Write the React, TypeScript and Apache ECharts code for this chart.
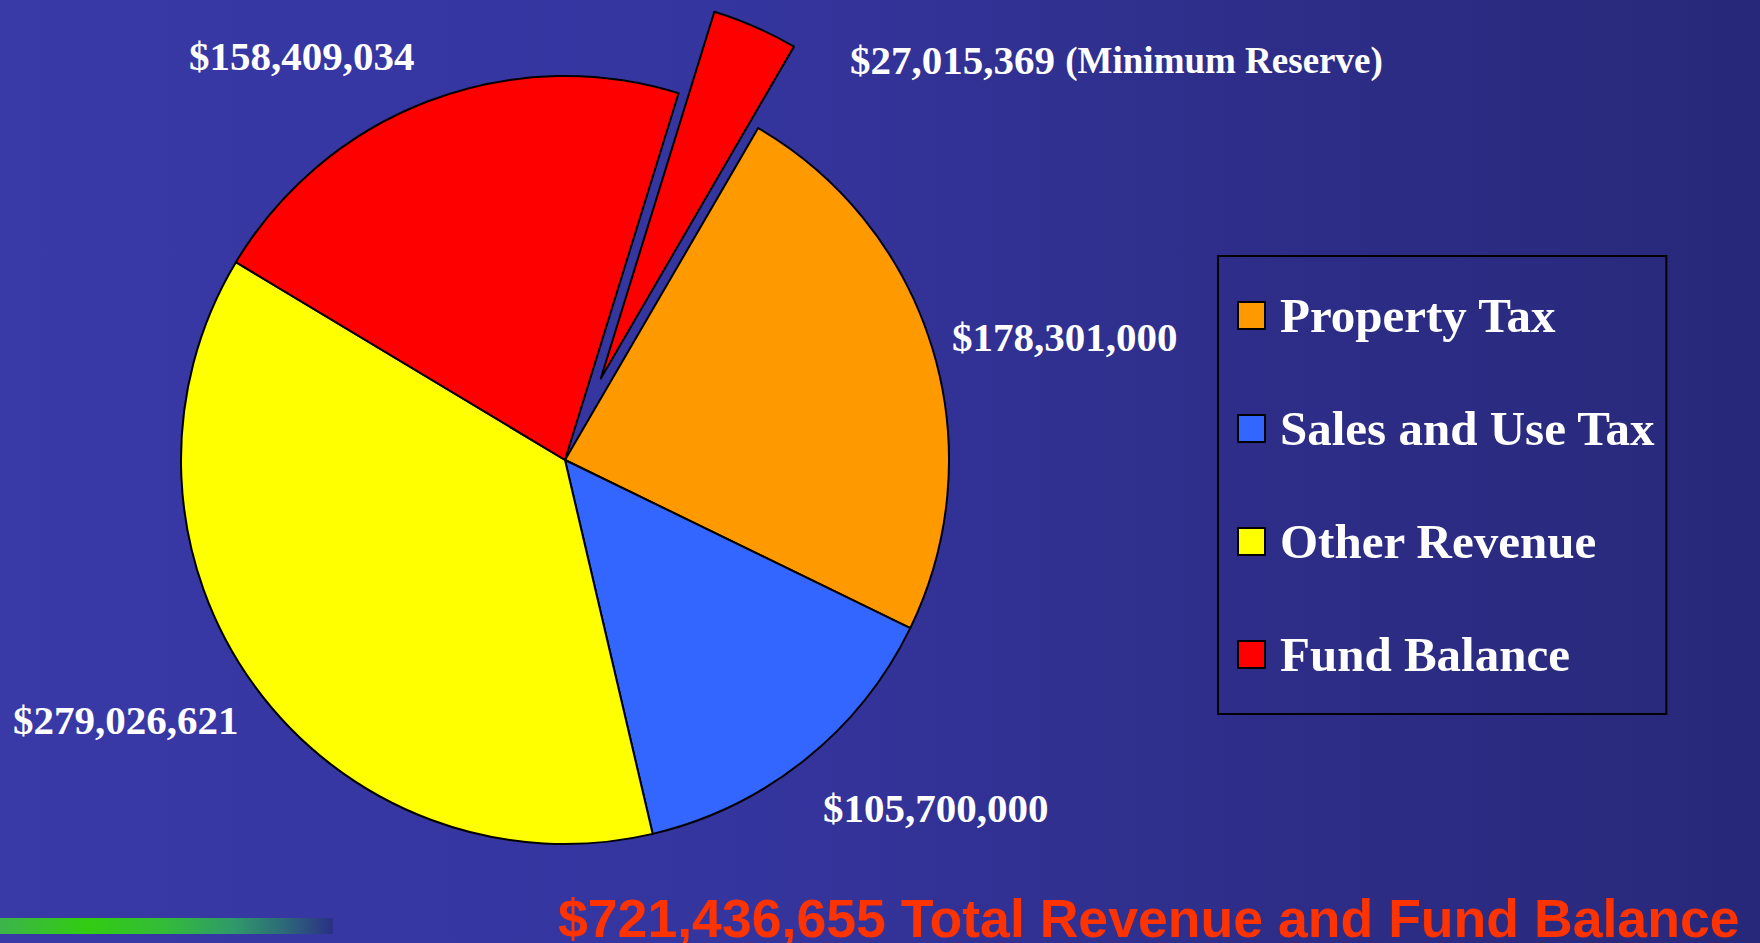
import React, { useEffect, useRef } from "react";
import * as echarts from "echarts";

const categories = ["Property Tax", "Sales and Use Tax", "Other Revenue", "Fund Balance", "Minimum Reserve"];
const values = [178301000, 105700000, 279026621, 158409034, 27015369];
const legendItems = ["Property Tax", "Sales and Use Tax", "Other Revenue", "Fund Balance"];
const totalLabel = "$721,436,655 Total Revenue and Fund Balance";

const COLORS = ["#FF9900", "#3366FF", "#FFFF00", "#FF0000", "#FF0000"];
const EXPLODED = 4; // index of the pulled-out slice
// label anchor positions (left edge x, middle y)
const LABEL_X = [952, 823, 13, 189, 850];
const LABEL_Y = [337, 808, 720, 56, 60];

const CENTER = [565, 460];
const RADIUS = 384;
const START_ANGLE = 59.8;
const EXPLODE_OFFSET = 89;

const fmt = (v: number) => "$" + v.toLocaleString("en-US");

export default function App() {
  const ref = useRef<HTMLDivElement>(null);
  useEffect(() => {
    const chart = echarts.init(ref.current!, undefined, { renderer: "svg" });

    // mid-angle of the exploded slice, derived from the data
    const total = values.reduce((a, b) => a + b, 0);
    const before = values.slice(0, EXPLODED).reduce((a, b) => a + b, 0);
    const midDeg = START_ANGLE - (360 * (before + values[EXPLODED] / 2)) / total;
    const midRad = (midDeg * Math.PI) / 180;
    const explodedCenter = [
      CENTER[0] + EXPLODE_OFFSET * Math.cos(midRad),
      CENTER[1] - EXPLODE_OFFSET * Math.sin(midRad),
    ];

    const labelBase = {
      color: "#FFFFFF",
      fontFamily: "Liberation Serif",
      fontWeight: "bold" as const,
      fontSize: 41,
    };

    const commonSeries = {
      type: "pie" as const,
      radius: RADIUS,
      startAngle: START_ANGLE,
      clockwise: true,
      avoidLabelOverlap: false,
      emphasis: { disabled: true },
      labelLine: { show: false },
      labelLayout: (params: any) => ({
        x: LABEL_X[params.dataIndex],
        y: LABEL_Y[params.dataIndex],
        align: "left",
        verticalAlign: "middle",
      }),
    };

    chart.setOption({
      animation: false,
      backgroundColor: new echarts.graphic.LinearGradient(0, 0, 1, 0, [
        { offset: 0, color: "#3939A7" },
        { offset: 0.4, color: "#3535A0" },
        { offset: 0.7, color: "#2E2E8A" },
        { offset: 1, color: "#28287A" },
      ]),
      legend: {
        orient: "vertical",
        left: 1218,
        top: 256,
        data: legendItems,
        icon: "rect",
        itemWidth: 27,
        itemHeight: 27,
        itemGap: 64,
        padding: [35, 11, 35, 19],
        borderColor: "#000",
        borderWidth: 2,
        selectedMode: false,
        textStyle: {
          color: "#FFFFFF",
          fontFamily: "Liberation Serif",
          fontWeight: "bold",
          fontSize: 49,
          padding: [0, 0, 0, 10],
        },
      },
      graphic: [
        {
          type: "rect",
          shape: { x: 0, y: 918, width: 333, height: 16 },
          style: {
            fill: new echarts.graphic.LinearGradient(0, 0, 1, 0, [
              { offset: 0, color: "#3CB44B" },
              { offset: 0.26, color: "#33CC11" },
              { offset: 0.5, color: "#33BB3A" },
              { offset: 0.7, color: "#2F9A6A" },
              { offset: 0.85, color: "#2D6A78" },
              { offset: 1, color: "#2B2F85" },
            ]),
          },
        },
        {
          type: "text",
          x: 558,
          y: 918,
          style: {
            text: totalLabel,
            fill: "#FF3300",
            font: "bold 53.6px 'Liberation Sans', Arial, sans-serif",
            align: "left",
            verticalAlign: "middle",
          },
        },
      ],
      series: [
        {
          ...commonSeries,
          name: "main",
          center: CENTER,
          data: categories.map((name, i) =>
            i === EXPLODED
              ? {
                  name,
                  value: values[i],
                  itemStyle: { color: "transparent", borderWidth: 0 },
                  label: { show: false },
                }
              : {
                  name,
                  value: values[i],
                  itemStyle: { color: COLORS[i], borderColor: "#000", borderWidth: 2 },
                  label: { show: true, position: "outside", ...labelBase, formatter: fmt(values[i]) },
                }
          ),
        },
        {
          ...commonSeries,
          name: "exploded",
          center: explodedCenter,
          silent: true,
          data: categories.map((name, i) =>
            i === EXPLODED
              ? {
                  name,
                  value: values[i],
                  itemStyle: { color: COLORS[i], borderColor: "#000", borderWidth: 2 },
                  label: {
                    show: true,
                    position: "outside",
                    ...labelBase,
                    formatter: `{a|${fmt(values[i])}} {b|(${name})}`,
                    rich: {
                      a: { ...labelBase },
                      b: { ...labelBase, fontSize: 37 },
                    },
                  },
                }
              : {
                  name: "",
                  value: values[i],
                  itemStyle: { color: "transparent", borderWidth: 0 },
                  label: { show: false },
                }
          ),
        },
      ],
    });
    return () => chart.dispose();
  }, []);
  return (
    <div
      ref={ref}
      style={{ position: "fixed", left: 0, top: 0, width: 1760, height: 943 }}
    />
  );
}
